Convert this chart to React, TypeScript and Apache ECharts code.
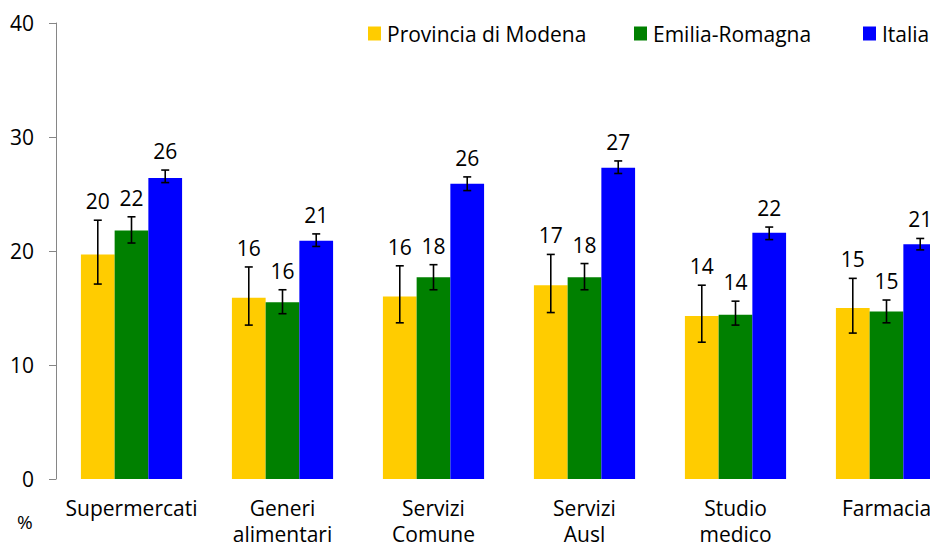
import React, { useEffect, useRef } from "react";
import * as echarts from "echarts";

const categories = ["Supermercati", "Generi\nalimentari", "Servizi\nComune", "Servizi\nAusl", "Studio\nmedico", "Farmacia"];
const seriesNames = ["Provincia di Modena", "Emilia-Romagna", "Italia"];
const seriesColors = ["#FFCC00", "#008000", "#0000FF"];

const modena = [19.7, 15.9, 16.0, 17.0, 14.3, 15.0];
const modenaLow = [17.1, 13.5, 13.7, 14.6, 12.0, 12.8];
const modenaHigh = [22.7, 18.6, 18.7, 19.7, 17.0, 17.6];

const emilia = [21.8, 15.5, 17.7, 17.7, 14.4, 14.7];
const emiliaLow = [20.7, 14.5, 16.6, 16.6, 13.5, 13.7];
const emiliaHigh = [23.0, 16.6, 18.8, 18.9, 15.6, 15.7];

const italia = [26.4, 20.9, 25.9, 27.3, 21.6, 20.6];
const italiaLow = [26.0, 20.4, 25.3, 26.8, 21.0, 20.1];
const italiaHigh = [27.1, 21.5, 26.5, 27.9, 22.1, 21.1];

const yTicks = [0, 10, 20, 30, 40];

const FONT = "'Open Sans', sans-serif";
const CATEGORY_GAP = 0.33;

export default function App() {
  const ref = useRef<HTMLDivElement>(null);
  useEffect(() => {
    if (!ref.current) return;
    const chart = echarts.init(ref.current, null, { renderer: "svg" });
    const values = [modena, emilia, italia];
    const lows = [modenaLow, emiliaLow, italiaLow];
    const highs = [modenaHigh, emiliaHigh, italiaHigh];

    const barSeries = seriesNames.map((name, i) => ({
      name,
      type: "bar",
      data: values[i],
      barGap: "0%",
      barCategoryGap: CATEGORY_GAP * 100 + "%",
      itemStyle: { color: seriesColors[i] },
      z: 2,
    }));

    const errSeries = seriesNames.map((name, i) => ({
      name: name + "-err",
      type: "custom",
      z: 5,
      clip: false,
      data: values[i].map((v, c) => [c, lows[i][c], highs[i][c], v]),
      renderItem: (params: any, api: any) => {
        const cat = api.value(0);
        const low = api.value(1);
        const high = api.value(2);
        const v = api.value(3);
        const band = api.size([1, 0])[0];
        const barW = (band * (1 - CATEGORY_GAP)) / 3;
        const x = api.coord([cat, 0])[0] + (i - 1) * barW;
        const yl = api.coord([cat, low])[1];
        const yh = api.coord([cat, high])[1];
        const cap = 4;
        const st = { stroke: "#000", lineWidth: 1.6 };
        return {
          type: "group",
          children: [
            { type: "line", shape: { x1: x, y1: yl, x2: x, y2: yh }, style: st },
            { type: "line", shape: { x1: x - cap, y1: yl, x2: x + cap, y2: yl }, style: st },
            { type: "line", shape: { x1: x - cap, y1: yh, x2: x + cap, y2: yh }, style: st },
            {
              type: "text",
              x: x,
              y: yh - 19,
              style: {
                text: String(Math.round(v)),
                fill: "#000",
                font: "21px " + FONT,
                align: "center",
                verticalAlign: "middle",
              },
            },
          ],
        };
      },
    }));

    const legendLefts = [368, 634, 863];
    const option = {
      animation: false,
      grid: { left: 56, right: -32, top: 23, bottom: 68, containLabel: false, outerBoundsMode: "none" },
      legend: seriesNames.map((name, i) => ({
        data: [name],
        left: legendLefts[i],
        top: 23,
        padding: 0,
        itemWidth: 13,
        itemHeight: 14,
        icon: "rect",
        selectedMode: false,
        textStyle: { fontFamily: FONT, fontSize: 21, color: "#000", padding: [0, 0, 0, 1] },
      })),
      xAxis: {
        type: "category",
        data: categories,
        axisLine: { show: false },
        axisTick: { show: false },
        axisLabel: {
          interval: 0,
          fontFamily: FONT,
          fontSize: 21,
          lineHeight: 26,
          color: "#000",
          margin: 16,
        },
      },
      yAxis: {
        type: "value",
        min: yTicks[0],
        max: yTicks[yTicks.length - 1],
        interval: 10,
        splitLine: { show: false },
        axisLine: { show: true, lineStyle: { color: "#868686", width: 1 } },
        axisTick: { show: true, length: 7, lineStyle: { color: "#868686" } },
        axisLabel: { fontFamily: FONT, fontSize: 21, color: "#000", margin: 22 },
      },
      graphic: [
        {
          type: "text",
          left: 17,
          top: 512,
          style: { text: "%", font: "19px " + FONT, fill: "#000" },
        },
      ],
      series: [...barSeries, ...errSeries],
    };
    chart.setOption(option as any);
    return () => chart.dispose();
  }, []);
  return <div ref={ref} style={{ position: "absolute", left: 0, top: 0, width: 930, height: 547 }} />;
}
